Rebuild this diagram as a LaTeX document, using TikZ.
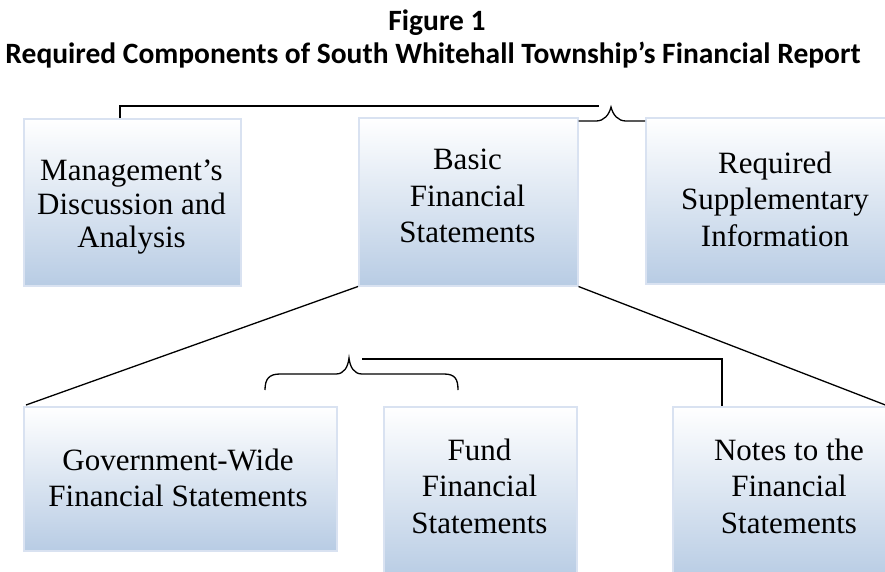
\documentclass[tikz,border=0pt]{standalone}
\usepackage{fontspec}
\setmainfont{Liberation Serif}
\newfontfamily\titlefont{Carlito}
\usetikzlibrary{calc}
\definecolor{boxbot}{HTML}{B8CCE4}
\definecolor{boxedge}{HTML}{D9E2F1}
\begin{document}
\begin{tikzpicture}[x=1pt,y=-1pt,
  box/.style={draw=boxedge, line width=1.5pt, top color=white, bottom color=boxbot,
    rectangle, inner sep=0pt, anchor=north west},
  txt/.style={align=center, inner sep=0pt, text=black},
  conn/.style={draw=black, line width=1.3pt},
  ttl/.style={font=\titlefont\bfseries\fontsize{29.5}{34}\selectfont, anchor=base, inner sep=0pt}
  ]
\useasboundingbox (0,0) rectangle (885,571);
\fill[white] (0,0) rectangle (885,571);
\clip (0,0) rectangle (885,571);

% title
\node[ttl] (t1) at (437,30) {Figure 1};
\node[ttl] (t2) at (433,63) {Required Components of South Whitehall Township’s Financial Report};

% boxes
\node[box, minimum width=217pt, minimum height=167pt] (mda) at (23,118) {};
\node[box, minimum width=219pt, minimum height=168pt] (bfs) at (358,117) {};
\node[box, minimum width=259pt, minimum height=166pt] (rsi) at (645,117) {};
\node[box, minimum width=313pt, minimum height=144pt] (gw) at (23,406) {};
\node[box, minimum width=193pt, minimum height=172pt] (ffs) at (383,406) {};
\node[box, minimum width=234pt, minimum height=172pt] (nts) at (672,406) {};

% texts
\node[txt, font=\fontsize{31}{33.5}\selectfont] (mdat) at (131.5,207.5) {Management’s\\Discussion and\\Analysis};
\node[txt, font=\fontsize{31}{36.5}\selectfont] (bfst) at (467.5,196) {Basic\\Financial\\Statements};
\node[txt, font=\fontsize{31}{36.5}\selectfont] (rsit) at (775,199) {Required\\Supplementary\\Information};
\node[txt, font=\fontsize{31}{36}\selectfont] (gwt) at (178,477.5) {Government-Wide\\Financial Statements};
\node[txt, font=\fontsize{31}{36.5}\selectfont] (ffst) at (479.5,486) {Fund\\Financial\\Statements};
\node[txt, font=\fontsize{31}{36.5}\selectfont] (ntst) at (789,486) {Notes to the\\Financial\\Statements};

% top bracket and brace
\coordinate (tbA) at (120,118);
\coordinate (tbB) at (599,106);
\draw[conn] (tbA) |- (tbB);
\coordinate (bL) at (bfs.north east);
\coordinate (bTip) at (611,107);
\coordinate (bR) at (rsi.north west);
\draw[conn] ($(bL)+(0,4)$) -- (596,121) .. controls (604,121) and (609,115) .. (bTip)
  .. controls (613,115) and (618,121) .. (626,121) -- ($(bR)+(0,4)$);

% connectors from Basic Financial Statements
\coordinate (rEnd) at (888,406);
\draw[conn] (bfs.south west) -- ($(gw.north west)+(3,-1)$);
\draw[conn] (bfs.south east) -- (rEnd);

% lower bracket and brace
\coordinate (lbA) at (362,359);
\coordinate (lbB) at (722,406);
\draw[conn] (lbA) -| (lbB);
\coordinate (lTip) at (349,358);
\draw[conn] (265,390) .. controls (265,379) and (269,374) .. (280,374) -- (336,374)
  .. controls (344,374) and (348,367) .. (lTip)
  .. controls (350,367) and (354,374) .. (362,374) -- (444,374)
  .. controls (455,374) and (458,379) .. (458,390);
\end{tikzpicture}
\end{document}
